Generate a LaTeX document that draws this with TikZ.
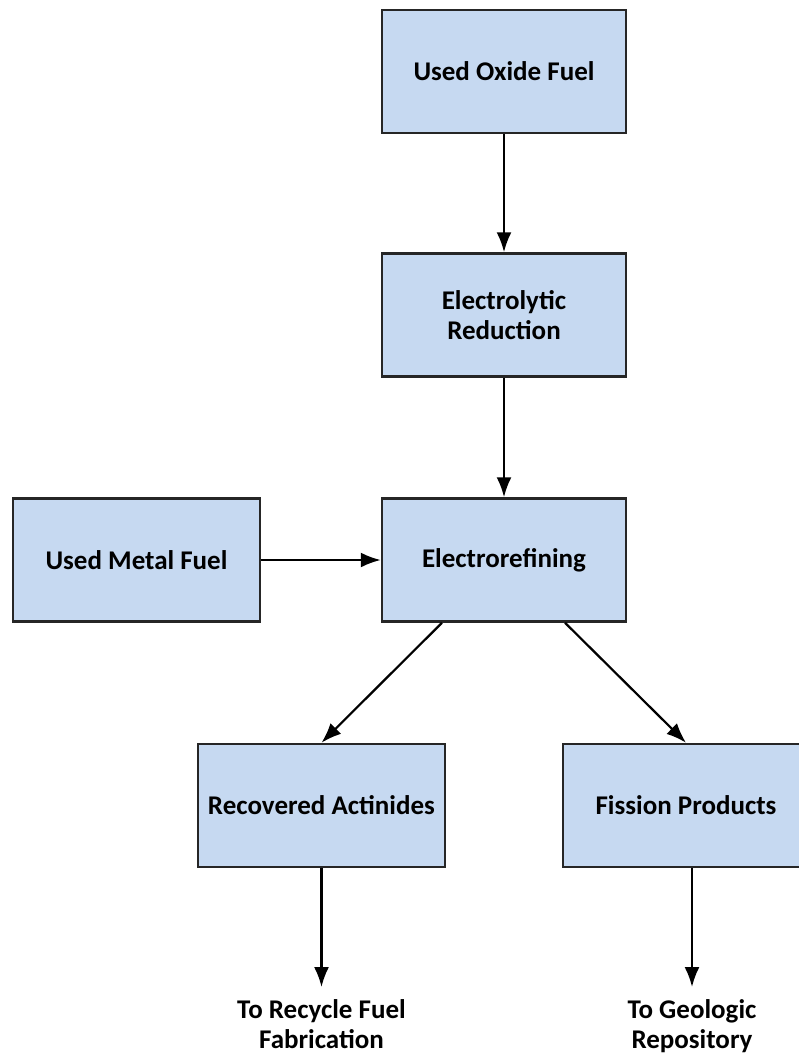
\documentclass[tikz,border=0pt]{standalone}
\usepackage{fontspec}
\setmainfont{Carlito}
\definecolor{BoxBlue}{RGB}{198,217,241}
\definecolor{BoxEdge}{RGB}{38,38,38}
\usetikzlibrary{arrows.meta,positioning,calc}

\begin{document}
\begin{tikzpicture}[x=1pt,y=-1pt,
    procbox/.style={draw=BoxEdge,fill=BoxBlue,line width=2.5pt,
      minimum width=244pt,minimum height=123pt,align=center,
      font=\fontsize{27}{30}\selectfont\bfseries},
    outlabel/.style={align=center,inner xsep=2pt,inner ysep=12pt,
      font=\fontsize{27}{30}\selectfont\bfseries},
    flow/.style={-{Latex[length=20pt,width=15pt]},line width=2.2pt}]
  \useasboundingbox (0,0) rectangle (798,1055);
  % Process boxes
  \node[procbox] (oxide)     at (504,71.5)  {Used Oxide Fuel};
  \node[procbox] (reduction) at (504,315)   {Electrolytic\\Reduction};
  \node[procbox] (erefine)   at (504,560)   {Electrorefining};
  \node[procbox,minimum width=247pt] (metal) at (136.5,560) {Used Metal Fuel};
  \node[procbox,minimum width=247pt] (actinides) at (321.5,805.5) {Recovered Actinides};
  \node[procbox,minimum width=246pt] (fission)   at (686,805.5)   {Fission Products};
  % Destinations
  \node[outlabel,anchor=north] (recycle)  at (321.5,987) {To Recycle Fuel\\Fabrication};
  \node[outlabel,anchor=north] (geologic) at (692,987)   {To Geologic\\Repository};
  % Flows
  \draw[flow] (oxide) -- (reduction);
  \draw[flow] (reduction) -- (erefine);
  \draw[flow] (metal) -- (erefine);
  \draw[flow] ([xshift=-62pt]erefine.south) -- (actinides.north);
  \draw[flow] ([xshift=61pt]erefine.south) -- (fission.north);
  \draw[flow] (actinides.south) -- (recycle.north);
  \draw[flow] (fission.south -| geologic.north) -- (geologic.north);
\end{tikzpicture}
\end{document}
